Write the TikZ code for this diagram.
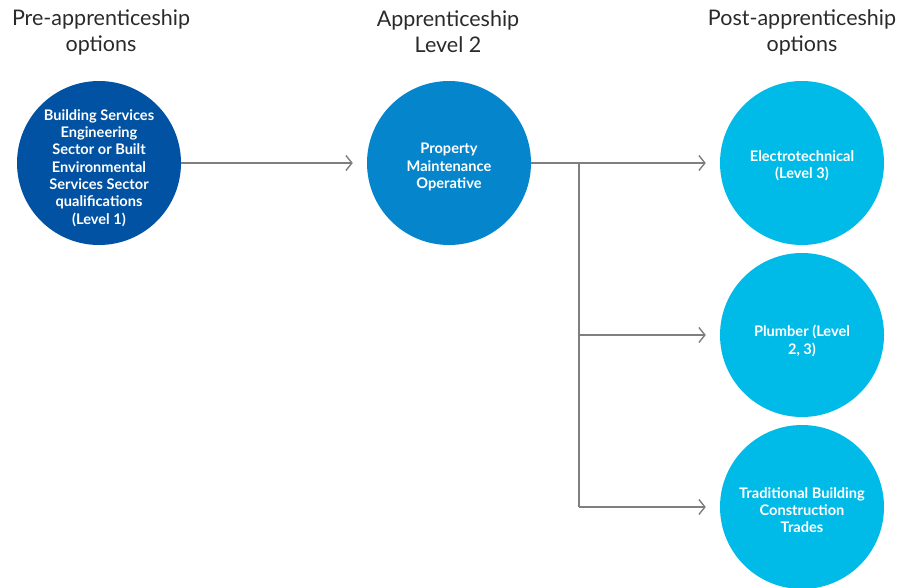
\documentclass[tikz,border=0pt]{standalone}
\usepackage{fontspec}
\setmainfont{Lato}
\usetikzlibrary{arrows.meta}
\definecolor{cdark}{HTML}{0252A3}
\definecolor{cmid}{HTML}{0586CC}
\definecolor{clight}{HTML}{00BBE7}
\definecolor{cline}{HTML}{7F7F7F}
\definecolor{ctext}{HTML}{2A2A2A}
\begin{document}
\begin{tikzpicture}[x=1pt,y=-1pt,
  circ/.style={circle,minimum size=164pt,inner sep=0pt},
  ctxt/.style={text=white,align=center,inner sep=0pt,
    font=\fontsize{14.6}{17.3}\selectfont\bfseries},
  head/.style={align=center,text=ctext,font=\fontsize{21.5}{26}\selectfont},
  conn/.style={draw=cline,line width=1.4pt},
  arr/.style={conn,-{Straight Barb[length=6pt,width=15pt,line width=1.4pt]}}]
\useasboundingbox (0,0) rectangle (899,587);
\node[head] (h1) at (101,32) {Pre-apprenticeship\\options};
\node[head] (h2) at (448,32) {Apprenticeship\\Level 2};
\node[head] (h3) at (802,32) {Post-apprenticeship\\options};
\node[circ,fill=cdark] (c1) at (99,163) {};
\node[circ,fill=cmid] (c2) at (449,163) {};
\node[circ,fill=clight] (r1) at (802,163) {};
\node[circ,fill=clight] (r2) at (802,335) {};
\node[circ,fill=clight] (r3) at (802,507) {};
\node[ctxt] (t1) at ([yshift=-5pt]c1.center) {Building Services\\Engineering\\Sector or Built\\Environmental\\Services Sector\\qualifications\\(Level 1)};
\node[ctxt] (t2) at ([yshift=-4pt]c2.center) {Property\\Maintenance\\Operative};
\node[ctxt] (t3) at ([yshift=-3pt]r1.center) {Electrotechnical\\(Level 3)};
\node[ctxt] (t4) at ([yshift=-6pt]r2.center) {Plumber (Level\\2, 3)};
\node[ctxt] (t5) at ([yshift=-3pt]r3.center) {Traditional Building\\Construction\\Trades};
\coordinate (j1) at (579,163);
\coordinate (j2) at (579,335);
\coordinate (j3) at (579,507);
\draw[arr] (c1.east) -- ([xshift=-14pt]c2.west);
\draw[conn] (c2.east) -- (j1) -- (j3);
\draw[arr] (j1) -- ([xshift=-14pt]r1.west);
\draw[arr] (j2) -- ([xshift=-14pt]r2.west);
\draw[arr] (j3) -- ([xshift=-14pt]r3.west);
\end{tikzpicture}
\end{document}
